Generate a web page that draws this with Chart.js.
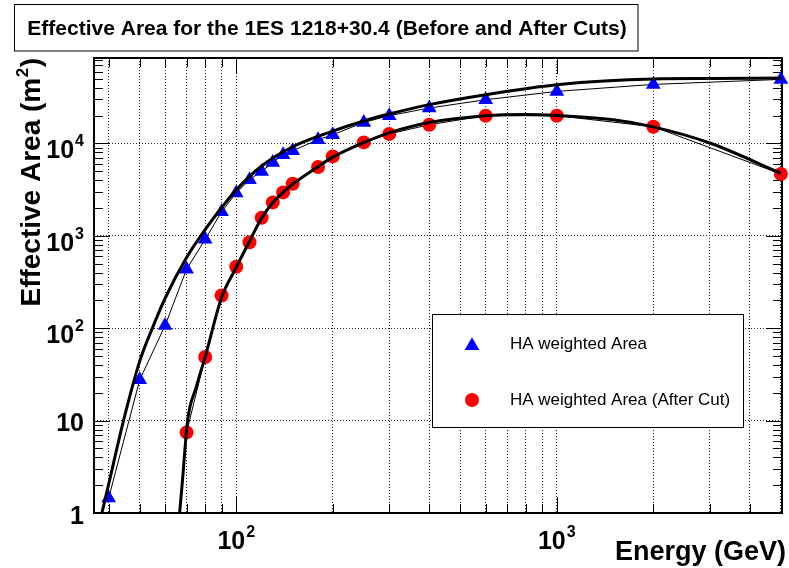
<!DOCTYPE html>
<html>
<head>
<meta charset="utf-8">
<title>Effective Area for the 1ES 1218+30.4</title>
<script src="https://cdn.jsdelivr.net/npm/chart.js@4.4.1/dist/chart.umd.min.js"></script>
<style>
  html, body { margin: 0; padding: 0; background: #fff; }
  #wrap { position: relative; width: 789px; height: 568px; }
</style>
</head>
<body>
<div id="wrap"><canvas id="chart"></canvas></div>
<script>
// Measured points, energy in GeV, area in m^2
const energyBefore = [40, 50, 60, 70, 80, 90, 100, 110, 120, 130, 140, 150, 180, 200, 250, 300, 400, 600, 1000, 2000, 5000];
const areaBefore = [1.45, 27.7, 107, 435, 915, 1820, 2900, 4050, 4980, 6200, 7550, 8340, 10970, 12420, 16860, 19960, 24150, 29700, 36550, 43500, 49300];

const energyAfter = [70, 80, 90, 100, 110, 120, 130, 140, 150, 180, 200, 250, 300, 400, 600, 1000, 2000, 5000];
const areaAfter = [7.45, 48.8, 226, 463, 853, 1570, 2300, 2950, 3660, 5560, 7230, 10250, 12650, 15930, 19950, 19950, 15150, 4670];

// Fitted curves
const fitEnergyBefore = [37.5, 38.1, 40, 44.5, 50, 55, 60, 70, 80, 90, 100, 120, 150, 200, 250, 300, 400, 600, 1000, 2000, 3000, 5000];
const fitAreaBefore = [0.8, 1, 2.05, 10, 44, 104, 211, 582, 1167, 2010, 3140, 5700, 9200, 13600, 17500, 20800, 26300, 33700, 43200, 49800, 50300, 51000];

const fitEnergyAfter = [66, 68, 70.5, 75, 80, 90, 100, 110, 120, 130, 140, 150, 180, 200, 250, 300, 400, 600, 800, 1000, 1500, 2000, 3000, 5000];
const fitAreaAfter = [0.7, 2.3, 10, 23, 49, 215, 455, 870, 1560, 2280, 2950, 3620, 5600, 7100, 10200, 13000, 16800, 19900, 20500, 20000, 18000, 15100, 10100, 4750];

// Axis labels
const xLabelValues = [100, 1000];
const xLabelBases = ['10', '10'];
const xLabelExps = ['2', '3'];
const yLabelValues = [1, 10, 100, 1000, 10000];
const yLabelBases = ['1', '10', '10', '10', '10'];
const yLabelExps = ['', '', '2', '3', '4'];

const legendLabels = ['HA weighted Area', 'HA weighted Area (After Cut)'];

const FONT = '"Liberation Sans", Arial, Helvetica, sans-serif';

const toPoints = (xs, ys) => xs.map((x, i) => ({x: x, y: ys[i]}));

// 1..9 times a power of ten
function isNice(v) {
  const p = Math.pow(10, Math.floor(Math.log10(v) + 1e-9));
  const s = v / p;
  const r = Math.round(s);
  return Math.abs(s - r) < 1e-6 && r >= 1 && r <= 9;
}
function isDecade(v) {
  const l = Math.log10(v);
  return Math.abs(l - Math.round(l)) < 1e-6;
}

function drawPowerLabel(ctx, base, exp, x, y, align) {
  ctx.font = 'bold 25px ' + FONT;
  const wb = ctx.measureText(base).width;
  ctx.font = 'bold 16px ' + FONT;
  const we = exp ? ctx.measureText(exp).width + 1 : 0;
  const left = align === 'right' ? x - wb - we : x - (wb + we) / 2;
  ctx.textAlign = 'left';
  ctx.textBaseline = 'alphabetic';
  ctx.font = 'bold 25px ' + FONT;
  ctx.fillText(base, left, y);
  if (exp) {
    ctx.font = 'bold 16px ' + FONT;
    ctx.fillText(exp, left + wb + 1, y - 12);
  }
}

function triangle(ctx, x, y, r) {
  const s = Math.sin(Math.PI / 3) * r;
  ctx.beginPath();
  ctx.moveTo(x, y - r);
  ctx.lineTo(x + s, y + r / 2);
  ctx.lineTo(x - s, y + r / 2);
  ctx.closePath();
  ctx.fill();
}

// ROOT-like frame, inside ticks, labels, title and legend
const rootLook = {
  id: 'rootLook',
  beforeDraw(chart) {
    const ctx = chart.ctx;
    ctx.save();
    ctx.fillStyle = '#fff';
    ctx.fillRect(0, 0, chart.width, chart.height);
    ctx.restore();
  },
  beforeDatasetsDraw(chart) {
    const {ctx, chartArea: a, scales: {x, y}} = chart;
    ctx.save();
    ctx.strokeStyle = '#000';
    ctx.lineWidth = 1;
    ctx.beginPath();
    x.ticks.forEach(t => {
      if (!isNice(t.value)) return;
      const px = Math.round(x.getPixelForValue(t.value)) + 0.5;
      const len = isDecade(t.value) ? 16 : 9;
      ctx.moveTo(px, a.bottom); ctx.lineTo(px, a.bottom - len);
      ctx.moveTo(px, a.top); ctx.lineTo(px, a.top + len);
    });
    y.ticks.forEach(t => {
      if (!isNice(t.value)) return;
      const py = Math.round(y.getPixelForValue(t.value)) + 0.5;
      const len = isDecade(t.value) ? 16 : 9;
      ctx.moveTo(a.left, py); ctx.lineTo(a.left + len, py);
      ctx.moveTo(a.right, py); ctx.lineTo(a.right - len, py);
    });
    ctx.stroke();
    ctx.lineWidth = 2;
    ctx.strokeRect(a.left, a.top, a.right - a.left, a.bottom - a.top);
    ctx.restore();
  },
  afterDraw(chart) {
    const {ctx, scales: {x, y}} = chart;
    ctx.save();
    ctx.fillStyle = '#000';

    // tick labels
    yLabelValues.forEach((v, i) => {
      const py = y.getPixelForValue(v);
      drawPowerLabel(ctx, yLabelBases[i], yLabelExps[i], 84, py + (yLabelExps[i] ? 15 : 10.5), 'right');
    });
    xLabelValues.forEach((v, i) => {
      drawPowerLabel(ctx, xLabelBases[i], xLabelExps[i], x.getPixelForValue(v), 549, 'center');
    });

    // x title
    ctx.font = 'bold 27px ' + FONT;
    ctx.textAlign = 'right';
    ctx.textBaseline = 'alphabetic';
    ctx.fillText('Energy (GeV)', 786, 560);

    // y title, rotated, flush with the top of the frame
    ctx.save();
    ctx.translate(40, 58);
    ctx.rotate(-Math.PI / 2);
    ctx.textAlign = 'left';
    ctx.font = 'bold 28px ' + FONT;
    const p1 = 'Effective Area (m', p3 = ')';
    const w1 = ctx.measureText(p1).width, w3 = ctx.measureText(p3).width;
    ctx.font = 'bold 17px ' + FONT;
    const w2 = ctx.measureText('2').width + 1;
    let x0 = -(w1 + w2 + w3);
    ctx.font = 'bold 28px ' + FONT;
    ctx.fillText(p1, x0, 0);
    ctx.fillText(p3, x0 + w1 + w2, 0);
    ctx.font = 'bold 17px ' + FONT;
    ctx.fillText('2', x0 + w1 + 0.5, -12);
    ctx.restore();

    // title box
    ctx.fillStyle = '#fff';
    ctx.fillRect(14.5, 4.5, 623.5, 46.5);
    ctx.strokeStyle = '#000';
    ctx.lineWidth = 1;
    ctx.strokeRect(14.5, 4.5, 623.5, 46.5);
    ctx.fillStyle = '#000';
    ctx.font = 'bold 21px ' + FONT;
    ctx.textAlign = 'center';
    ctx.fillText('Effective Area for the 1ES 1218+30.4 (Before and After Cuts)', 327, 34.5);

    // legend
    ctx.fillStyle = '#fff';
    ctx.fillRect(432.5, 314.5, 311, 113);
    ctx.strokeRect(432.5, 314.5, 311, 113);
    ctx.fillStyle = '#0000ff';
    triangle(ctx, 472, 345.8, 8.5);
    ctx.fillStyle = '#ff0000';
    ctx.beginPath();
    ctx.arc(472, 400, 7, 0, Math.PI * 2);
    ctx.fill();
    ctx.fillStyle = '#000';
    ctx.font = '17px ' + FONT;
    ctx.textAlign = 'left';
    ctx.fillText(legendLabels[0], 510, 348.5);
    ctx.fillText(legendLabels[1], 510, 405);
    ctx.restore();
  }
};

const ctx = document.getElementById('chart').getContext('2d');

new Chart(ctx, {
  type: 'scatter',
  data: {
    datasets: [
      {
        label: 'fit before',
        data: toPoints(fitEnergyBefore, fitAreaBefore),
        showLine: true, borderColor: '#000', borderWidth: 3, pointRadius: 0,
        cubicInterpolationMode: 'monotone', order: 0
      },
      {
        label: 'fit after',
        data: toPoints(fitEnergyAfter, fitAreaAfter),
        showLine: true, borderColor: '#000', borderWidth: 3, pointRadius: 0,
        cubicInterpolationMode: 'monotone', order: 0
      },
      {
        label: legendLabels[0],
        data: toPoints(energyBefore, areaBefore),
        pointStyle: 'triangle', pointRadius: 8.5, pointBorderWidth: 0,
        backgroundColor: '#0000ff', borderColor: '#0000ff', clip: false, order: 1
      },
      {
        label: legendLabels[1],
        data: toPoints(energyAfter, areaAfter),
        pointStyle: 'circle', pointRadius: 7, pointBorderWidth: 0,
        backgroundColor: '#ff0000', borderColor: '#ff0000', clip: false, order: 1
      },
      {
        label: 'line before',
        data: toPoints(energyBefore, areaBefore),
        showLine: true, borderColor: '#000', borderWidth: 1, pointRadius: 0, tension: 0, order: 2
      },
      {
        label: 'line after',
        data: toPoints(energyAfter, areaAfter),
        showLine: true, borderColor: '#000', borderWidth: 1, pointRadius: 0, tension: 0, order: 2
      }
    ]
  },
  options: {
    responsive: true,
    maintainAspectRatio: false,
    animation: false,
    layout: {
      autoPadding: false,
      padding: {left: 94, right: 7, top: 58, bottom: 55}
    },
    scales: {
      x: {
        type: 'logarithmic',
        min: 36,
        max: 5040,
        ticks: {display: false},
        border: {display: false, dash: [1, 2]},
        grid: {
          drawTicks: false,
          lineWidth: 1,
          color: (c) => (c.tick && isNice(c.tick.value)) ? '#222' : 'rgba(0,0,0,0)'
        }
      },
      y: {
        type: 'logarithmic',
        min: 1,
        max: 84000,
        ticks: {display: false},
        border: {display: false, dash: [1, 2]},
        grid: {
          drawTicks: false,
          lineWidth: 1,
          color: (c) => (c.tick && isDecade(c.tick.value)) ? '#222' : 'rgba(0,0,0,0)'
        }
      }
    },
    plugins: {
      legend: {display: false},
      tooltip: {enabled: false}
    }
  },
  plugins: [rootLook]
});
</script>
</body>
</html>
